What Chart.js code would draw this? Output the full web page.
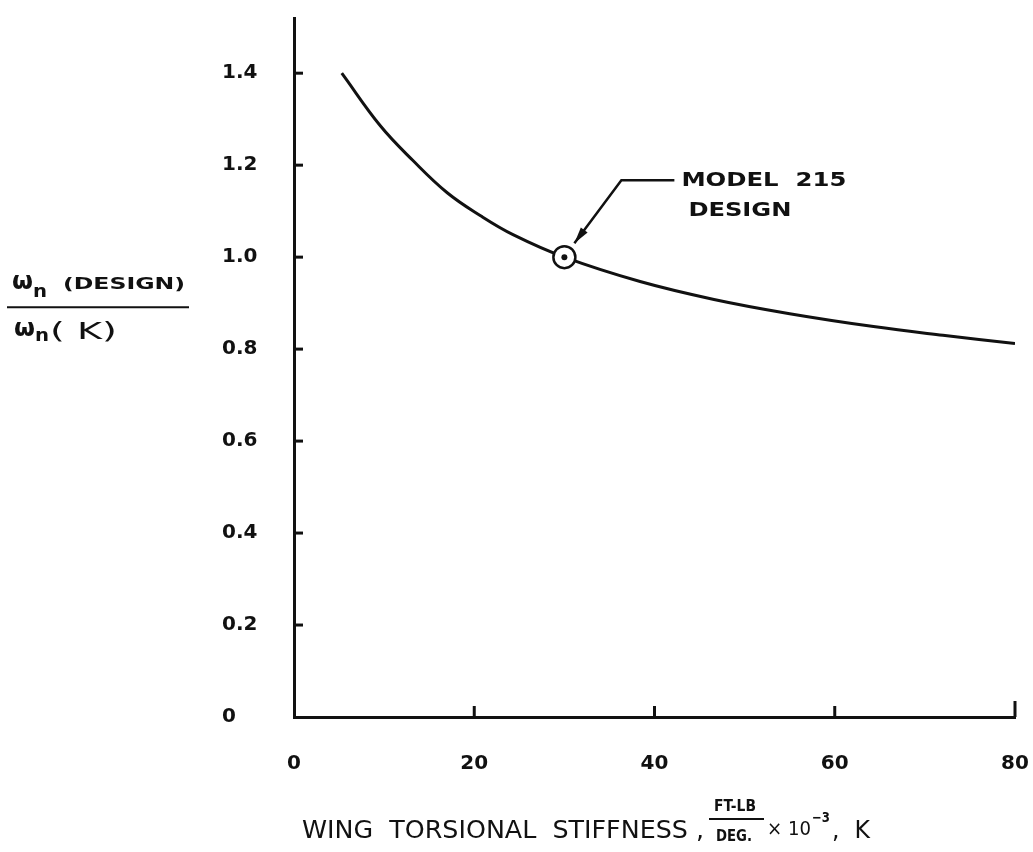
<!DOCTYPE html>
<html>
<head>
<meta charset="utf-8">
<script src="https://cdn.jsdelivr.net/npm/chart.js@4.4.1/dist/chart.umd.min.js"></script>
<style>
    html, body { margin: 0; padding: 0; background: #fff; }
    #wrap { width: 1033px; height: 852px; position: relative; }
</style>
</head>
<body>
<div id="wrap"><canvas id="freqChart" width="1033" height="852"></canvas></div>
<script>
// values
const stiffness = [5.3, 9.6, 13.2, 17, 20.7, 24.3, 30, 38.4, 46.6, 55, 64.3, 72, 80];
const freqRatio = [1.40, 1.285, 1.21, 1.14, 1.09, 1.049, 1.00, 0.947, 0.908, 0.877, 0.849, 0.83, 0.812];
const designK = [30];
const designRatio = [1.0];
const xTicks = [0, 20, 40, 60, 80];
const yTicks = [0, 0.2, 0.4, 0.6, 0.8, 1.0, 1.2, 1.4];

const INK = '#111';
const FONT = '"DejaVu Sans", sans-serif';

// draw text squeezed/stretched to a given width (hand lettering is wide)
function fitText(ctx, text, x, y, width) {
    const w = ctx.measureText(text).width;
    ctx.save();
    ctx.translate(x, y);
    ctx.scale(width / w, 1);
    ctx.fillText(text, 0, 0);
    ctx.restore();
}

// inward tick marks, axis titles and the design call-out
const decorations = {
    id: 'decorations',
    afterDraw(chart) {
        const ctx = chart.ctx;
        const xs = chart.scales.x, ys = chart.scales.y;
        const area = chart.chartArea;
        ctx.save();
        ctx.strokeStyle = INK;
        ctx.fillStyle = INK;
        ctx.lineWidth = 3;

        // y ticks point inward
        yTicks.slice(1).forEach(v => {
            const py = ys.getPixelForValue(v);
            ctx.beginPath();
            ctx.moveTo(area.left, py);
            ctx.lineTo(area.left + 9, py);
            ctx.stroke();
        });
        // x ticks point up
        xTicks.slice(1).forEach(v => {
            const px = xs.getPixelForValue(v);
            ctx.beginPath();
            ctx.moveTo(px, area.bottom);
            ctx.lineTo(px, area.bottom - (v === 80 ? 16 : 11));
            ctx.stroke();
        });

        // y axis title as a fraction
        ctx.textBaseline = 'alphabetic';
        ctx.textAlign = 'left';
        const fy = ys.getPixelForValue(1.0) + 50;
        ctx.font = 'bold 24px ' + FONT;
        fitText(ctx, 'ω', 12, fy - 18, 21);
        ctx.font = 'bold 18px ' + FONT;
        fitText(ctx, 'n', 33, fy - 10, 14);
        ctx.font = 'bold 16px ' + FONT;
        fitText(ctx, '(DESIGN)', 63, fy - 18, 122);
        ctx.lineWidth = 2;
        ctx.beginPath();
        ctx.moveTo(7, fy);
        ctx.lineTo(189, fy);
        ctx.stroke();
        ctx.font = 'bold 24px ' + FONT;
        fitText(ctx, 'ω', 14, fy + 29, 21);
        ctx.font = 'bold 18px ' + FONT;
        fitText(ctx, 'n', 35, fy + 34, 14);
        ctx.font = '23px ' + FONT;
        fitText(ctx, '( K)', 50, fy + 32, 67);

        // x axis title
        const by = area.bottom + 121;
        ctx.font = '24px ' + FONT;
        fitText(ctx, 'WING  TORSIONAL  STIFFNESS ,', 302, by, 402);
        ctx.font = 'bold 16px ' + FONT;
        fitText(ctx, 'FT-LB', 714, by - 27, 42);
        fitText(ctx, 'DEG.', 716, by + 3, 36);
        ctx.lineWidth = 2;
        ctx.beginPath();
        ctx.moveTo(709, by - 19);
        ctx.lineTo(764, by - 19);
        ctx.stroke();
        ctx.font = '20px ' + FONT;
        fitText(ctx, '× 10', 767, by - 3, 44);
        ctx.font = 'bold 14px ' + FONT;
        fitText(ctx, '−3', 812, by - 16, 18);
        ctx.font = '24px ' + FONT;
        fitText(ctx, ',  K', 832, by, 38);

        // call-out for the design point
        const px = xs.getPixelForValue(designK[0]);
        const py = ys.getPixelForValue(designRatio[0]);
        const corner = { x: px + 57, y: py - 77 };
        const tip = { x: px + 10, y: py - 14 };
        ctx.lineWidth = 2.5;
        ctx.beginPath();
        ctx.moveTo(px + 110, corner.y);
        ctx.lineTo(corner.x, corner.y);
        ctx.lineTo(tip.x, tip.y);
        ctx.stroke();
        const ang = Math.atan2(tip.y - corner.y, tip.x - corner.x);
        ctx.beginPath();
        ctx.moveTo(tip.x, tip.y);
        ctx.lineTo(tip.x - 17 * Math.cos(ang - 0.25), tip.y - 17 * Math.sin(ang - 0.25));
        ctx.lineTo(tip.x - 17 * Math.cos(ang + 0.25), tip.y - 17 * Math.sin(ang + 0.25));
        ctx.closePath();
        ctx.fill();
        ctx.font = 'bold 20px ' + FONT;
        ctx.textBaseline = 'middle';
        fitText(ctx, 'MODEL  215', px + 117, corner.y + 1, 165);
        fitText(ctx, 'DESIGN', px + 124, corner.y + 31, 103);
        ctx.restore();
    }
};

const ctx = document.getElementById('freqChart').getContext('2d');

new Chart(ctx, {
    type: 'scatter',
    data: {
        datasets: [{
            data: stiffness.map((k, i) => ({ x: k, y: freqRatio[i] })),
            showLine: true,
            borderColor: INK,
            borderWidth: 3,
            pointRadius: 0,
            tension: 0.4,
            order: 3
        },
        {
            data: designK.map((k, i) => ({ x: k, y: designRatio[i] })),
            pointRadius: 11,
            pointBackgroundColor: '#fff',
            pointBorderColor: INK,
            pointBorderWidth: 2.5,
            order: 2
        },
        {
            data: designK.map((k, i) => ({ x: k, y: designRatio[i] })),
            pointRadius: 3,
            pointBackgroundColor: INK,
            pointBorderWidth: 0,
            order: 1
        }]
    },
    options: {
        responsive: false,
        animation: false,
        layout: {
            padding: { top: 18, right: 18, left: 222, bottom: 0 }
        },
        plugins: {
            legend: { display: false },
            tooltip: { enabled: false }
        },
        scales: {
            x: {
                type: 'linear',
                min: 0,
                max: 80,
                afterBuildTicks: s => { s.ticks = xTicks.map(v => ({ value: v })); },
                afterFit: s => { s.height = 135; },
                border: { display: true, color: INK, width: 3 },
                grid: {
                    display: true,
                    drawOnChartArea: false,
                    drawTicks: true,
                    tickLength: 35,
                    tickColor: 'rgba(0,0,0,0)'
                },
                ticks: {
                    color: INK,
                    padding: 0,
                    maxRotation: 0,
                    font: { family: FONT, size: 20, weight: 'bold' },
                    callback: v => String(v)
                }
            },
            y: {
                type: 'linear',
                min: 0,
                max: 1.52,
                afterBuildTicks: s => { s.ticks = yTicks.map(v => ({ value: v })); },
                afterFit: s => { s.width = 72; },
                border: { display: true, color: INK, width: 3 },
                grid: { display: false, drawTicks: false },
                ticks: {
                    color: INK,
                    padding: 0,
                    crossAlign: 'far',
                    font: { family: FONT, size: 20, weight: 'bold' },
                    callback: v => v === 0 ? '0' : v.toFixed(1)
                }
            }
        }
    },
    plugins: [decorations]
});
</script>
</body>
</html>
